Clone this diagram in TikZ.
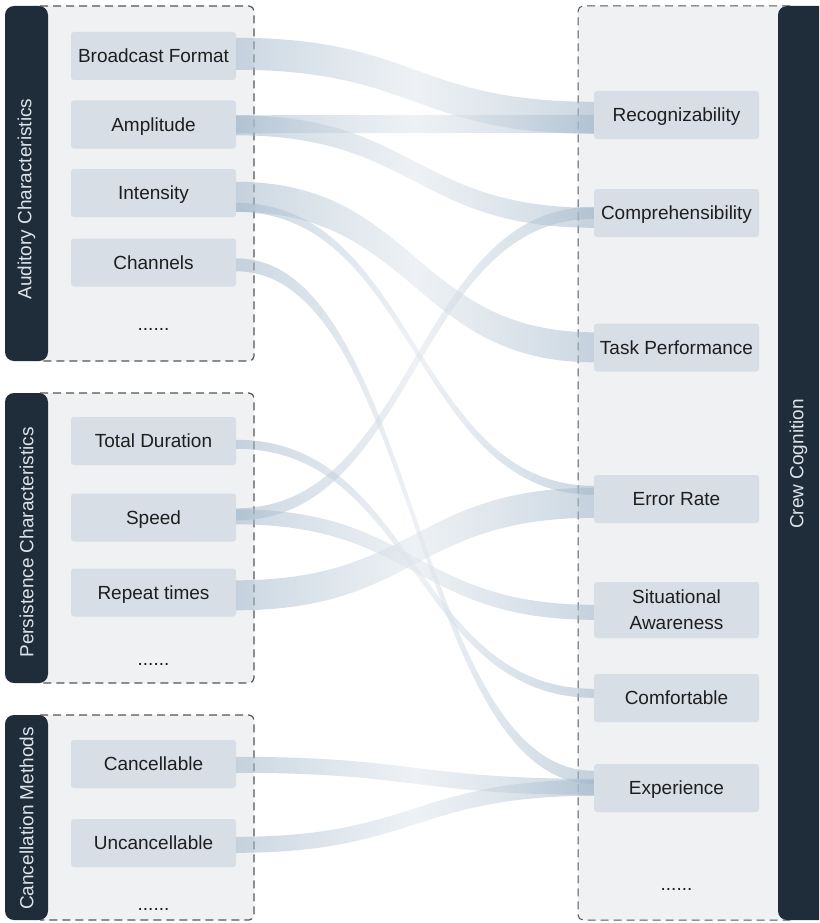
\documentclass[tikz,border=0pt]{standalone}
\usepackage{fontspec}
\setmainfont{Liberation Sans}
\usetikzlibrary{calc}

\definecolor{panel}{HTML}{EFF1F3}
\definecolor{barcol}{HTML}{1F2D3A}
\definecolor{boxfill}{HTML}{D7DEE5}
\definecolor{txtcol}{HTML}{1E1E1E}
\definecolor{bartxt}{HTML}{DDE3E8}
\definecolor{flowend}{RGB}{163,184,203}
\definecolor{flowmid}{RGB}{224,230,236}
\definecolor{dashcol}{HTML}{555555}

% band from #1 (top offset #2, width #3) to #4 (top offset #5)
\newcommand\flowband[5]{%
  \coordinate (fa1) at ([yshift={-(#2)}]#1.north east);
  \coordinate (fa2) at ([yshift={-(#2)-(#3)}]#1.north east);
  \coordinate (fb1) at ([yshift={-(#5)}]#4.north west);
  \coordinate (fb2) at ([yshift={-(#5)-(#3)}]#4.north west);
  \coordinate (fm) at ($(fa1)!0.5!(fb1)$);
  \path[flowfill] (fa1) .. controls (fm |- fa1) and (fm |- fb1) .. (fb1)
    -- (fb2) .. controls (fm |- fb2) and (fm |- fa2) .. (fa2) -- cycle;
}

\begin{document}
\begin{tikzpicture}[x=1pt,y=-1pt,
  item/.style={fill=boxfill, rounded corners=3pt, minimum width=165pt,
    minimum height=48pt, inner sep=0pt, text=txtcol, align=center,
    text height=13.6pt, text depth=0pt,
    font=\fontsize{19}{26}\selectfont},
  more/.style={anchor=base, inner sep=0pt, text=txtcol,
    font=\fontsize{19}{26}\selectfont},
  barlabel/.style={rotate=90, text=bartxt, inner sep=0pt,
    font=\fontsize{19}{26}\selectfont},
  dashedge/.style={draw=dashcol, line width=1.2pt, dash pattern=on 8pt off 5pt,
    rounded corners=5pt},
  flowfill/.style={left color=flowend, right color=flowend,
    middle color=flowmid, fill opacity=0.55},
]
\useasboundingbox (0,0) rectangle (819,923);

% group panels
\fill[panel, rounded corners=5pt] (30,6) rectangle (254,361);
\fill[panel, rounded corners=5pt] (30,393) rectangle (254,683);
\fill[panel, rounded corners=5pt] (30,715) rectangle (254,920);
\fill[panel, rounded corners=5pt] (578,6) rectangle (800,920);

\draw[dashedge] (40,6) -- (254,6) -- (254,361) -- (40,361);
\draw[dashedge] (40,393) -- (254,393) -- (254,683) -- (40,683);
\draw[dashedge] (40,715) -- (254,715) -- (254,920) -- (40,920);
\draw[dashedge, line width=1pt] (790,6) -- (578,6) -- (578,920) -- (790,920);

% side bars
\fill[barcol, rounded corners=9pt] (5,6) rectangle (48,361);
\fill[barcol, rounded corners=9pt] (5,393) rectangle (48,683);
\fill[barcol, rounded corners=9pt] (5,715) rectangle (48,920);
\begin{scope}
  \clip (0,0) rectangle (819,923);
  \fill[barcol, rounded corners=9pt] (778,6) rectangle (840,920);
\end{scope}

\node[barlabel] (gA) at (26.5,199) {Auditory Characteristics};
\node[barlabel] (gP) at (26.5,542.5) {Persistence Characteristics};
\node[barlabel] (gC) at (26.5,818.5) {Cancellation Methods};
\node[barlabel] (gR) at (798.5,464) {Crew Cognition};

% factor nodes
\node[item] (bf)   at (153.5,56)    {Broadcast Format};
\node[item] (amp)  at (153.5,124.5) {Amplitude};
\node[item] (int)  at (153.5,193)   {Intensity};
\node[item] (chan) at (153.5,262.5) {Channels};
\node[more] (m1)   at (153.5,330)   {......};

\node[item] (td)   at (153.5,441)   {Total Duration};
\node[item] (spd)  at (153.5,517.5) {Speed};
\node[item] (rep)  at (153.5,592.5) {Repeat times};
\node[more] (m2)   at (153.5,665)   {......};

\node[item] (can)  at (153.5,764)   {Cancellable};
\node[item] (unc)  at (153.5,843)   {Uncancellable};
\node[more] (m3)   at (153.5,910)   {......};

% cognition nodes
\node[item] (rec)  at (676.5,115)   {Recognizability};
\node[item] (comp) at (676.5,213)   {Comprehensibility};
\node[item] (task) at (676.5,347.5) {Task Performance};
\node[item] (err)  at (676.5,499)   {Error Rate};
\node[item, minimum height=56pt, text height={}, text depth={}] (sa)
  at (676.5,610) {Situational\\Awareness};
\node[item] (comf) at (676.5,698)   {Comfortable};
\node[item] (exp)  at (676.5,788)   {Experience};
\node[more] (m4)   at (676.5,890)   {......};

% flows
\flowband{bf}{6}{32}{rec}{11}
\flowband{amp}{15}{18}{rec}{24}
\flowband{amp}{15}{20}{comp}{19}
\flowband{int}{13}{30}{task}{9}
\flowband{int}{34}{9}{err}{11}
\flowband{chan}{20}{13}{exp}{7}
\flowband{td}{23}{9}{comf}{15}
\flowband{spd}{15}{12}{comp}{18}
\flowband{spd}{16}{15}{sa}{23}
\flowband{rep}{12}{30}{err}{13}
\flowband{can}{17}{16}{exp}{15}
\flowband{unc}{18}{16}{exp}{16}
\end{tikzpicture}
\end{document}
